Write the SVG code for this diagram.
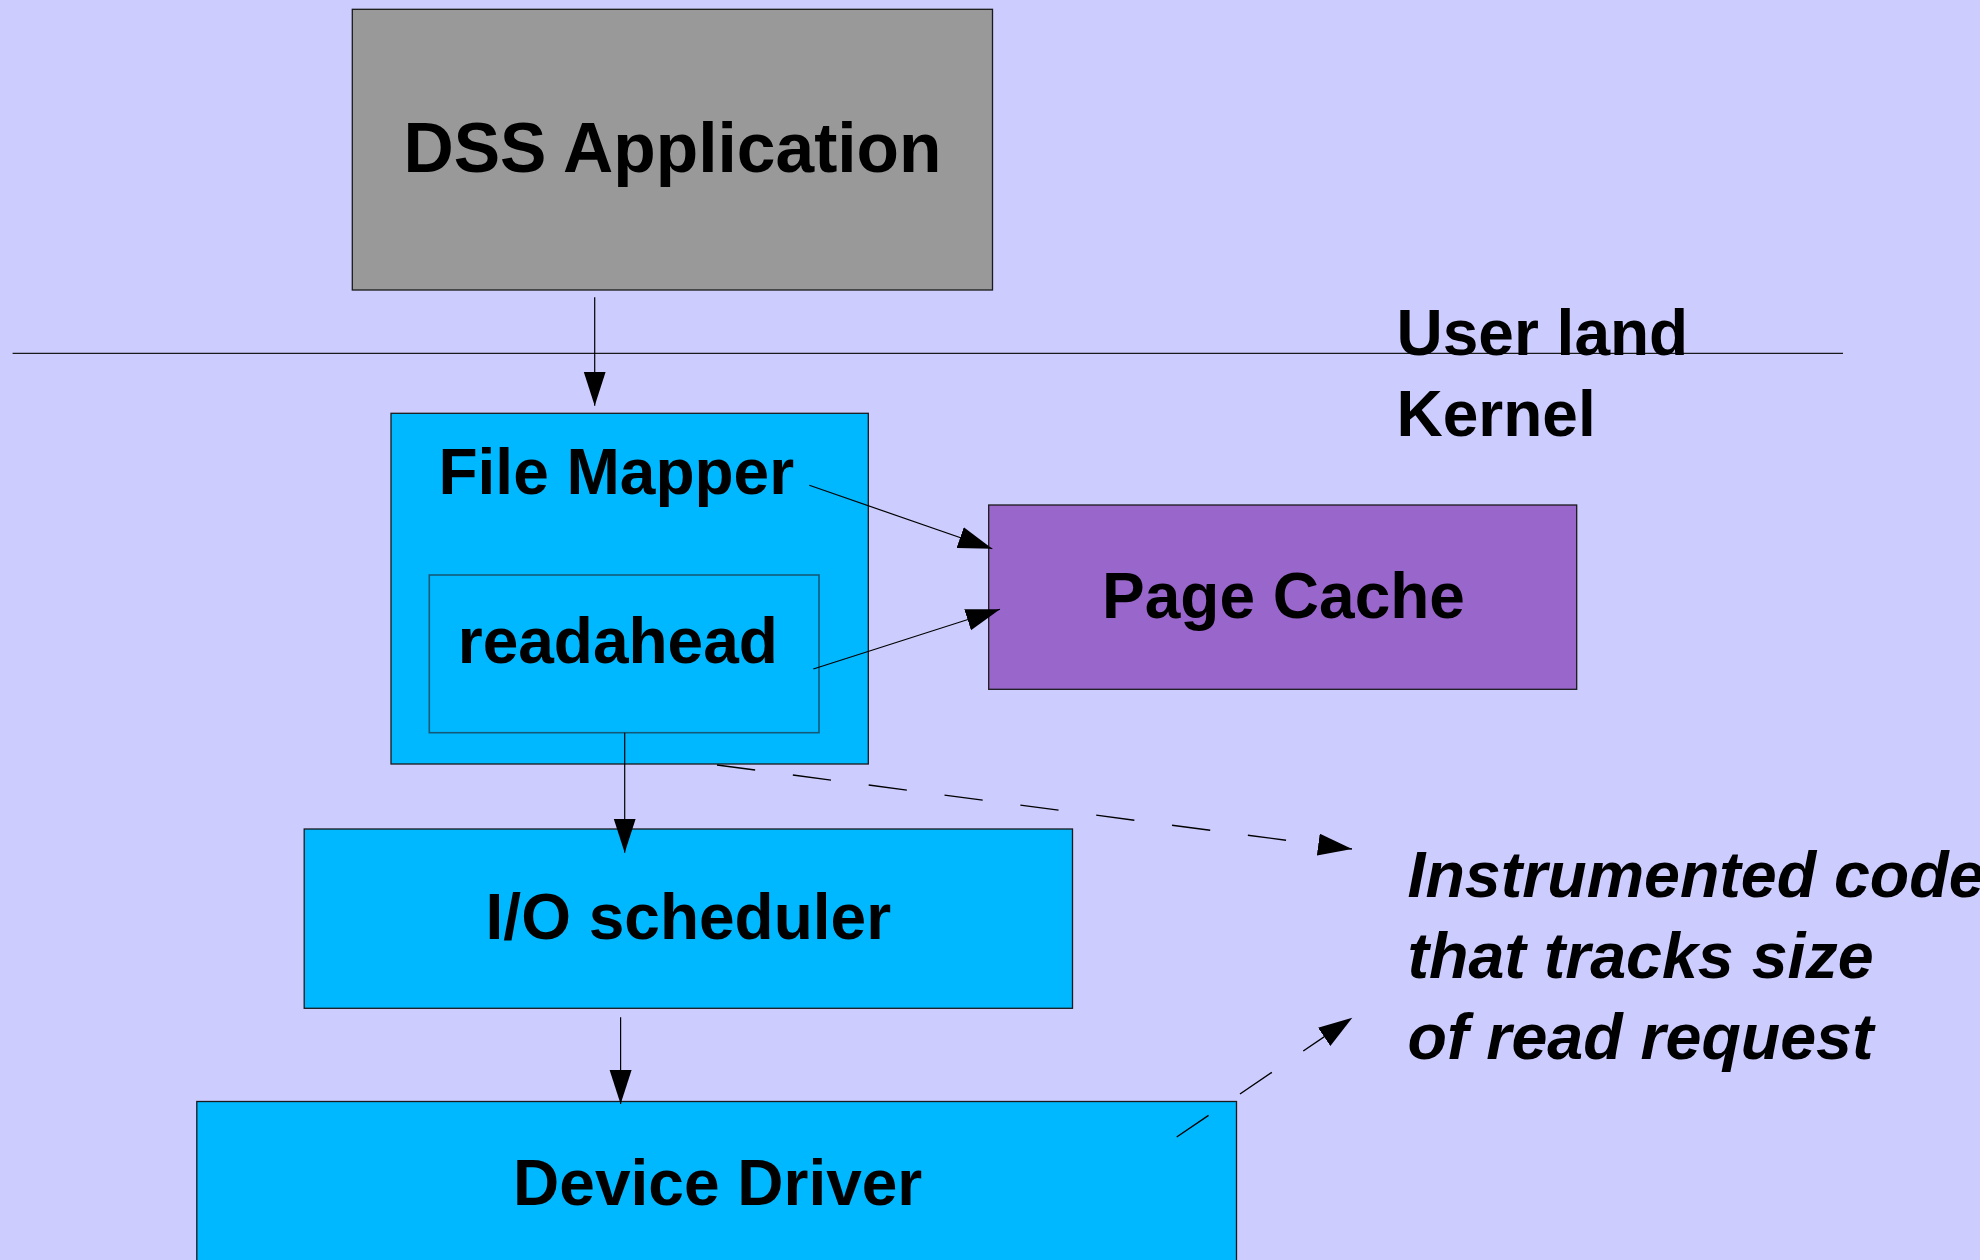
<svg xmlns="http://www.w3.org/2000/svg" width="1980" height="1260" viewBox="0 0 1980 1260">
<defs>
<style>
.box{stroke:#1a1a1a;stroke-width:1.3}
.blue{fill:#00b8ff}
.lbl{font-family:"Liberation Sans",Arial,sans-serif;font-weight:bold;font-size:64px;fill:#000}
.it{font-style:italic;font-size:64.5px}
.conn{stroke:#000;stroke-width:1.2;fill:none}
.dash{stroke-dasharray:38.5 38;stroke-width:1.4}
</style>
<marker id="ah" markerUnits="userSpaceOnUse" markerWidth="36" markerHeight="24" refX="34" refY="11" orient="auto">
<path d="M0,0 L34,11 L0,22 Z" fill="#000"/>
</marker>
</defs>
<rect x="0" y="0" width="1980" height="1260" fill="#ccccff"/>
<line x1="12.6" y1="353.3" x2="1843" y2="353.3" stroke="#1a1a1a" stroke-width="1.3"/>
<g id="dss">
<rect class="box" x="352.3" y="9.3" width="640.2" height="280.7" fill="#999999"/>
<text class="lbl" x="672.5" y="172.3" text-anchor="middle" style="font-size:69.5px">DSS Application</text>
</g>
<g id="filemapper">
<rect class="box blue" x="391" y="413.3" width="477.3" height="350.7"/>
<text class="lbl" x="616.3" y="494.3" text-anchor="middle">File Mapper</text>
</g>
<g id="readahead">
<rect class="blue" x="429.3" y="575" width="389.7" height="157.7" stroke="#135a78" stroke-width="1.6"/>
<text class="lbl" x="617.8" y="663.3" text-anchor="middle">readahead</text>
</g>
<g id="pagecache">
<rect class="box" x="988.7" y="505" width="588" height="184.3" fill="#9966cc"/>
<text class="lbl" x="1283.5" y="617.5" text-anchor="middle">Page Cache</text>
</g>
<g id="iosched">
<rect class="box blue" x="304.2" y="829" width="768.3" height="179.3"/>
<text class="lbl" x="688.3" y="939.3" text-anchor="middle">I/O scheduler</text>
</g>
<g id="devdriver">
<rect class="box blue" x="196.8" y="1101.5" width="1039.7" height="200"/>
<text class="lbl" x="717.7" y="1204.5" text-anchor="middle">Device Driver</text>
</g>
<g id="labels">
<text class="lbl" x="1396.5" y="355">User land</text>
<text class="lbl" x="1396.5" y="435.7">Kernel</text>
</g>
<g id="note">
<text class="lbl it" x="1407.5" y="897">Instrumented code</text>
<text class="lbl it" x="1407.5" y="978">that tracks size</text>
<text class="lbl it" x="1407.5" y="1059">of read request</text>
</g>
<g id="connectors">
<line class="conn" x1="594.7" y1="297.3" x2="594.7" y2="405.7" marker-end="url(#ah)"/>
<line class="conn" x1="809.3" y1="485.3" x2="992.3" y2="548.7" marker-end="url(#ah)"/>
<line class="conn" x1="813.3" y1="669" x2="1000" y2="609.3" marker-end="url(#ah)"/>
<line class="conn" x1="624.7" y1="732.7" x2="624.7" y2="852.7" marker-end="url(#ah)"/>
<line class="conn" x1="620.6" y1="1017.3" x2="620.6" y2="1104" marker-end="url(#ah)"/>
<line class="conn dash" x1="717" y1="765" x2="1352" y2="849" marker-end="url(#ah)"/>
<line class="conn dash" x1="1176.7" y1="1137" x2="1352.3" y2="1017.7" marker-end="url(#ah)"/>
</g>
</svg>
